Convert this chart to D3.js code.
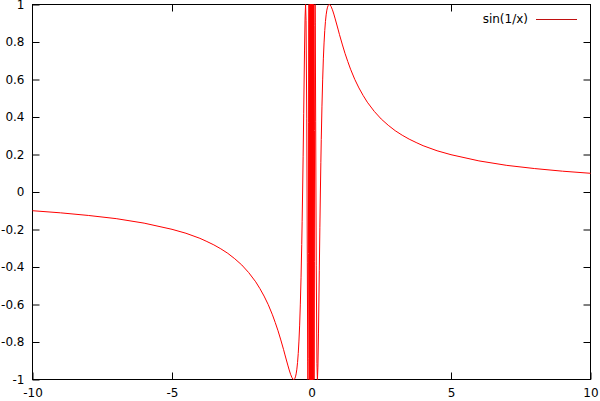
<!DOCTYPE html>
<html>
<head>
<meta charset="utf-8">
<script src="https://cdn.jsdelivr.net/npm/d3@7"></script>
<style>
  html, body { margin: 0; padding: 0; background: #fff; }
  svg { display: block; }
  text { font-family: "DejaVu Sans", sans-serif; font-size: 12px; fill: #000; }
</style>
</head>
<body>
<svg id="chart" width="600" height="401"></svg>
<script>
// Series: sin(1/x), sample points
const seriesName = "sin(1/x)";
// left branch (x < 0)
const xNeg = [
  -10, -9, -8, -7, -6, -5, -4.5, -4, -3.75, -3.5, -3.25, -3, -2.75, -2.5, -2.25, -2,
  -1.85, -1.7, -1.55, -1.4, -1.3, -1.2, -1.1, -1.0, -0.95, -0.9, -0.85, -0.8, -0.75,
  -0.7, -0.67, -0.6366, -0.62, -0.6, -0.575, -0.55, -0.525, -0.5, -0.475, -0.45, -0.425,
  -0.4, -0.375, -0.35, -0.335, -0.3183, -0.3, -0.28, -0.25, -0.23, -0.2122, -0.195, -0.17,
  -0.1592, -0.15, -0.135, -0.1273, -0.12, -0.11, -0.1061, -0.102, -0.095, -0.0909,
  -0.0707, -0.0579, -0.049, -0.0424, -0.0374, -0.0335, -0.0303, -0.0277, -0.0255,
  -0.0236, -0.022, -0.0205, -0.0193, -0.0182, -0.0172, -0.0163, -0.0155
];
const yNeg = [
  -0.0998, -0.111, -0.125, -0.142, -0.166, -0.199, -0.220, -0.247, -0.264, -0.282, -0.303,
  -0.327, -0.356, -0.389, -0.430, -0.479,
  -0.515, -0.555, -0.601, -0.655, -0.696, -0.740, -0.789, -0.841, -0.869, -0.896, -0.923,
  -0.949, -0.972,
  -0.990, -0.997, -1, -0.999, -0.995, -0.986, -0.970, -0.945, -0.909, -0.861, -0.795,
  -0.710, -0.598, -0.458, -0.280, -0.156, 0, 0.191, 0.417, 0.757, 0.934, 1, 0.915, 0.390,
  0, -0.374, -0.902, -1, -0.887, -0.328, 0, 0.370, 0.891, 1,
  -1, 1, -1, 1, -1, 1, -1, 1, -1,
  1, -1, 1, -1, 1, -1, 1, -1
];
// right branch (x > 0)
const xPos = [
  0.0155, 0.0163, 0.0172, 0.0182, 0.0193, 0.0205, 0.022, 0.0236, 0.0255, 0.0277, 0.0303,
  0.0335, 0.0374, 0.0424, 0.049, 0.0579, 0.0707, 0.0909, 0.095, 0.102, 0.1061, 0.11,
  0.12, 0.1273, 0.135, 0.15, 0.1592, 0.17, 0.195, 0.2122, 0.23, 0.25, 0.28, 0.3, 0.3183,
  0.335, 0.35, 0.375, 0.4, 0.425, 0.45, 0.475, 0.5, 0.525, 0.55, 0.575, 0.6, 0.62,
  0.6366, 0.67, 0.7, 0.75, 0.8, 0.85, 0.9, 0.95, 1.0, 1.1, 1.2, 1.3, 1.4, 1.55, 1.7,
  1.85, 2, 2.25, 2.5, 2.75, 3, 3.25, 3.5, 3.75, 4, 4.5, 5, 6, 7, 8, 9, 10
];
const yPos = [
  1, -1, 1, -1, 1, -1, 1, -1, 1, -1, 1,
  -1, 1, -1, 1, -1, 1, -1, -0.891, -0.370, 0, 0.328,
  0.887, 1, 0.902, 0.374, 0, -0.390, -0.915, -1, -0.934, -0.757, -0.417, -0.191, 0,
  0.156, 0.280, 0.458, 0.598, 0.710, 0.795, 0.861, 0.909, 0.945, 0.970, 0.986, 0.995, 0.999,
  1, 0.997, 0.990, 0.972, 0.949, 0.923, 0.896, 0.869, 0.841, 0.789, 0.740, 0.696, 0.655,
  0.601, 0.555, 0.515, 0.479, 0.430, 0.389, 0.356, 0.327, 0.303, 0.282, 0.264, 0.247,
  0.220, 0.199, 0.166, 0.142, 0.125, 0.111, 0.0998
];
const xTicks = [-10, -5, 0, 5, 10];
const yTicks = [-1, -0.8, -0.6, -0.4, -0.2, 0, 0.2, 0.4, 0.6, 0.8, 1];

const svg = d3.select("#chart");
const L = 32, R = 590, T = 4, B = 379;

const x = d3.scaleLinear().domain([-10, 10]).range([L + 0.5, R + 0.5]);
const y = d3.scaleLinear().domain([-1, 1]).range([B + 0.5, T + 0.5]);

// Axes with inward ticks (drawn first, behind the curve)
const tickLen = 7;
const axB = svg.append("g").attr("transform", `translate(0,${B + 0.5})`)
  .call(d3.axisBottom(x).tickValues(xTicks).tickSizeInner(-tickLen).tickSizeOuter(0).tickPadding(9).tickFormat(d => String(d)));
const axT = svg.append("g").attr("transform", `translate(0,${T + 0.5})`)
  .call(d3.axisTop(x).tickValues(xTicks.slice(1, -1)).tickSizeInner(-tickLen).tickSizeOuter(0).tickFormat(""));
const axL = svg.append("g").attr("transform", `translate(${L + 0.5},0)`)
  .call(d3.axisLeft(y).tickValues(yTicks).tickSizeInner(-tickLen).tickSizeOuter(0).tickPadding(8).tickFormat(d => String(d)));
const axR = svg.append("g").attr("transform", `translate(${R + 0.5},0)`)
  .call(d3.axisRight(y).tickValues(yTicks.slice(1, -1)).tickSizeInner(-tickLen).tickSizeOuter(0).tickFormat(""));

[axB, axT, axL, axR].forEach(g => {
  g.select(".domain").remove();
  g.selectAll("line").attr("stroke", "#000");
  g.selectAll("text").attr("font-family", "DejaVu Sans, sans-serif").attr("font-size", 12).attr("fill", "#000");
});

// Border
svg.append("rect")
  .attr("x", L + 0.5).attr("y", T + 0.5)
  .attr("width", R - L).attr("height", B - T)
  .attr("fill", "none").attr("stroke", "#000").attr("stroke-width", 1);

// Curve (clipped to plot area)
svg.append("clipPath").attr("id", "clip")
  .append("rect").attr("x", L).attr("y", T).attr("width", R - L + 1).attr("height", B - T + 1);

const pts = xNeg.map((v, i) => [v, yNeg[i]]).concat(xPos.map((v, i) => [v, yPos[i]]));
svg.append("path")
  .datum(pts)
  .attr("clip-path", "url(#clip)")
  .attr("fill", "none")
  .attr("stroke", "#ff0000")
  .attr("stroke-width", 1)
  .attr("d", d3.line().x(d => x(d[0])).y(d => y(d[1])));

// Legend
svg.append("text").attr("x", 528).attr("y", 19).attr("dy", "0.35em")
  .attr("text-anchor", "end").text(seriesName);
svg.append("line").attr("x1", 536).attr("x2", 577).attr("y1", 19.5).attr("y2", 19.5)
  .attr("stroke", "#c01010").attr("stroke-width", 1);
</script>
</body>
</html>
